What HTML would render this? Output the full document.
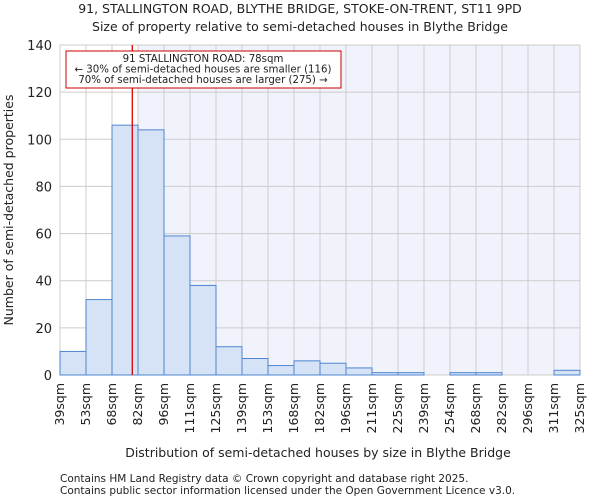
<!DOCTYPE html>
<html><head><meta charset="utf-8"><style>
body{margin:0;background:#fff;font-family:"DejaVu Sans","Liberation Sans",sans-serif;}
svg text{font-family:"DejaVu Sans","Liberation Sans",sans-serif;fill:#222;}
</style></head><body>
<svg id="chart" width="600" height="500" xmlns="http://www.w3.org/2000/svg">
<text x="300" y="13" text-anchor="middle" font-size="12.5">91, STALLINGTON ROAD, BLYTHE BRIDGE, STOKE-ON-TRENT, ST11 9PD</text>
<text x="300" y="31" text-anchor="middle" font-size="12.5">Size of property relative to semi-detached houses in Blythe Bridge</text>
<g id="plot"></g>
<text x="318" y="457" text-anchor="middle" font-size="12.5">Distribution of semi-detached houses by size in Blythe Bridge</text>
<text transform="translate(13,210) rotate(-90)" text-anchor="middle" font-size="12.5">Number of semi-detached properties</text>
<text x="60" y="482" font-size="10.5">Contains HM Land Registry data © Crown copyright and database right 2025.</text>
<text x="60" y="494" font-size="10.5">Contains public sector information licensed under the Open Government Licence v3.0.</text>
</svg>
<script>
const binLabels=["39sqm","53sqm","68sqm","82sqm","96sqm","111sqm","125sqm","139sqm","153sqm","168sqm","182sqm","196sqm","211sqm","225sqm","239sqm","254sqm","268sqm","282sqm","296sqm","311sqm","325sqm"];
const counts=[10,32,106,104,59,38,12,7,4,6,5,3,1,1,0,1,1,0,0,2];
const yTicks=[0,20,40,60,80,100,120,140];
const propertyBinPos=2.78;
const NS="http://www.w3.org/2000/svg";
const L=60,R=580,T=45,B=375,yMax=140;
const nb=counts.length,bw=(R-L)/nb;
const xs=i=>L+i*bw, ys=v=>B-v/yMax*(B-T);
const g=document.getElementById('plot');
function mk(t,a){const e=document.createElementNS(NS,t);for(const k in a)e.setAttribute(k,a[k]);g.appendChild(e);return e;}
let e=mk('rect',{x:L,y:T,width:R-L,height:B-T,fill:'#fff'});


const sx=xs(Math.ceil(propertyBinPos));
e=mk('rect',{x:sx,y:T,width:R-sx,height:B-T,fill:'#f0f3fc'});


for(let i=0;i<=nb;i++){e=mk('line',{x1:xs(i),x2:xs(i),y1:T,y2:B,stroke:'#ccc','stroke-width':1});

}
yTicks.forEach(v=>{e=mk('line',{x1:L,x2:R,y1:ys(v),y2:ys(v),stroke:'#ccc','stroke-width':1});


e=mk('text',{x:L-8,y:ys(v)+5,'text-anchor':'end','font-size':13});e.textContent=v;

});
counts.forEach((c,i)=>{if(c<=0)return;e=mk('rect',{x:xs(i),y:ys(c),width:bw,height:B-ys(c),fill:'#d6e2f5',stroke:'#4f86d0','stroke-width':1});

});
binLabels.forEach((l,i)=>{e=mk('text',{transform:`translate(${xs(i)+4},${B+8}) rotate(-90)`,'text-anchor':'end','font-size':12.5});e.textContent=l;

});
const px=xs(propertyBinPos);
e=mk('line',{x1:px,x2:px,y1:T,y2:B,stroke:'#d00','stroke-width':1.3});


e=mk('rect',{x:66,y:51,width:275,height:37,fill:'#fff',stroke:'#c00','stroke-width':1});


["91 STALLINGTON ROAD: 78sqm","← 30% of semi-detached houses are smaller (116)","70% of semi-detached houses are larger (275) →"].forEach((t,i)=>{
e=mk('text',{x:203,y:62+i*10.5,'text-anchor':'middle','font-size':10.2});e.textContent=t;

});
</script>
</body></html>
